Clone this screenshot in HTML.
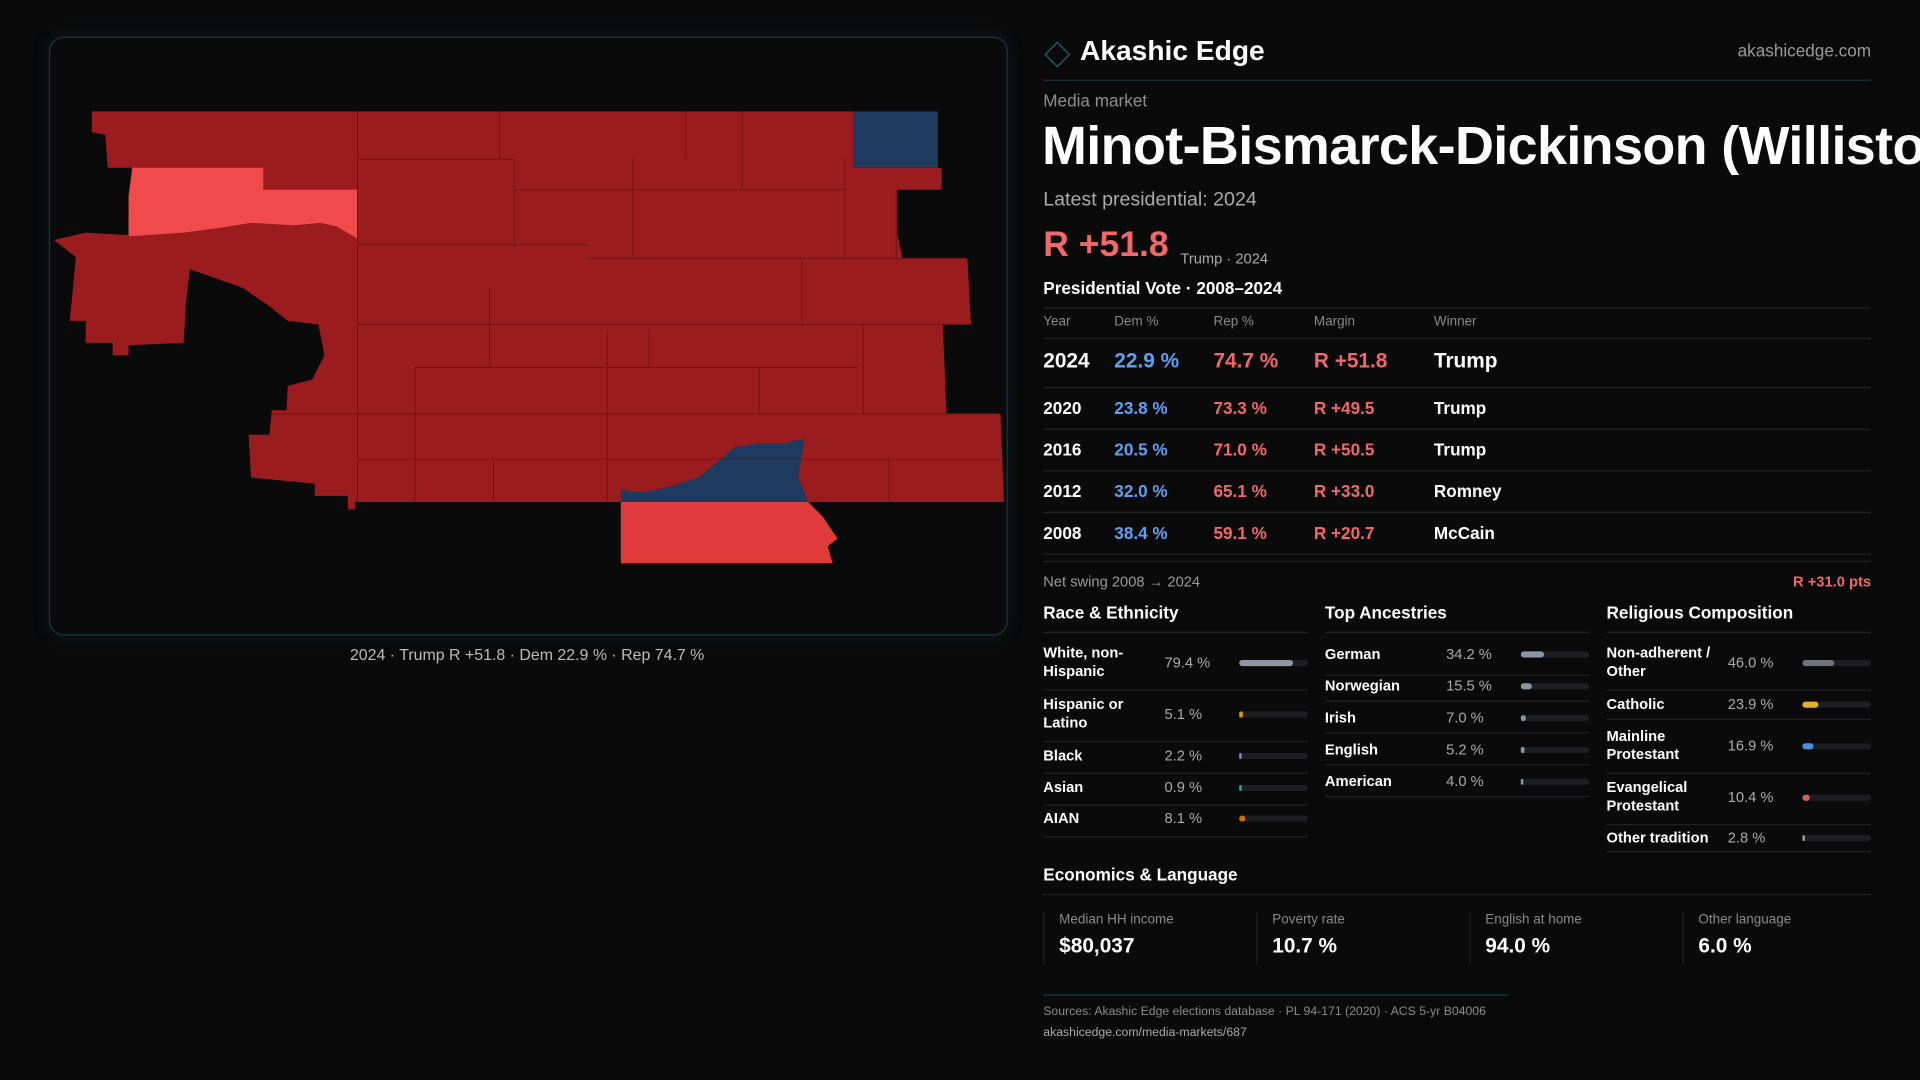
<!DOCTYPE html>
<html><head><meta charset="utf-8"><style>
html,body{margin:0;padding:0;background:#0a0a0b;width:1920px;height:1080px;overflow:hidden}
#wrap{position:absolute;left:0;top:0;width:1568px;height:882px;transform:scale(1.22449);transform-origin:0 0;font-family:"Liberation Sans",sans-serif;color:#fff}
.a{position:absolute;white-space:nowrap}
.hl{position:absolute;height:1px;background:#222326}
.g{color:#8d8d8d}
.red{color:#f26868}.blue{color:#5fa0f2}
.bt{position:absolute;height:5px;border-radius:3px;background:#1d1e22}
.bf{position:absolute;left:0;top:0;height:5px;border-radius:3px}
</style></head><body>
<div id="wrap">
<div class="a" style="left:40px;top:30px;width:781px;height:487px;border:1px solid #14393d;border-radius:12px;box-shadow:0 0 12px rgba(20,80,90,0.25)"></div>
<svg class="a" style="left:0;top:0" width="840" height="520">
<polygon fill="#9a1c1e" points="75,91 697,91 697,137 769,137 769,155 733,155 733,192 737,211 790,211 793,265 770,265 773,338 817,338 820,410 290,410 290,416 284,416 284,405 257,405 257,395 205,390 203,355 220,355 222,335 234,335 235,315 255,310 265,290 260,265 235,262 220,250 198,235 170,225 155,220 152,245 150,280 105,282 105,290 92,290 92,280 70,280 70,262 57,262 62,210 44,196 70,190 105,192 105,175 108,137 88,137 86,110 75,108"/>
<polygon fill="#f04a4a" points="108,137 215,137 215,155 233,155 233,155 292,155 292,195 275,185 262,182 240,184 205,182 180,186 150,190 105,193 105,160"/>
<polygon fill="#1e3a5f" points="697,91 766,91 766,137 697,137"/>
<polygon fill="#1e3a5f" points="507,400 525,402 545,398 570,390 585,378 600,365 620,362 640,362 657,358 652,390 660,410 507,410"/>
<polygon fill="#df3b3b" points="507,410 660,410 672,422 684,440 676,446 680,460 507,460"/>
<g stroke="#6e1416" stroke-width="0.8" fill="none">
<path d="M292,91V410M408,91V130M420,130V200M517,130V210M560,91V130M606,91V155M690,130V210M732,155V211M655,211V265M705,265V338M496,270V410M400,235V300M339,300V410M292,130H420M420,155H690M292,200H480M480,211H790M292,265H770M339,300H700M222,338H817M292,375H817M403,375V410M726,375V410M620,338V300M530,270V300"/>
</g>
</svg>
<div class="a" style="left:40px;width:781px;top:527px;text-align:center;font-size:13px;color:#bbb">2024 · Trump R +51.8 · Dem 22.9 % · Rep 74.7 %</div>

<div class="a" style="left:856px;top:37px;width:13px;height:13px;border:1.5px solid #1a6a72;transform:rotate(45deg)"></div>
<div class="a" style="left:882px;top:28px;font-size:23px;font-weight:bold">Akashic Edge</div>
<div class="a g" style="right:40px;top:33px;font-size:14px;color:#9a9a9a">akashicedge.com</div>
<div class="hl" style="left:852px;top:65px;width:676px;background:#173a3e"></div>
<div class="a g" style="left:852px;top:74px;font-size:14px">Media market</div>
<div class="a" style="left:851px;top:95px;font-size:44px;font-weight:bold;letter-spacing:-0.5px">Minot-Bismarck-Dickinson (Williston)</div>
<div class="a" style="left:852px;top:155px;font-size:16px;color:#aaa">Latest presidential: 2024</div>
<div class="a red" style="left:852px;top:184px;font-size:29px;font-weight:bold">R +51.8</div>
<div class="a" style="left:964px;top:204px;font-size:12px;color:#aaa">Trump · 2024</div>
<div class="a" style="left:852px;top:227px;font-size:14px;font-weight:bold">Presidential Vote · 2008–2024</div>
<div class="hl" style="left:852px;top:251px;width:676px"></div>
<div id="vt"></div>
<div class="a g" style="left:852px;top:468px;font-size:12px;color:#999">Net swing 2008 → 2024</div>
<div class="a red" style="right:40px;top:468px;font-size:12px;font-weight:bold">R +31.0 pts</div>
<div id="demo"></div>
<div class="a" style="left:852px;top:706px;font-size:14px;font-weight:bold">Economics &amp; Language</div>
<div class="hl" style="left:852px;top:730px;width:676px"></div>
<div id="econ"></div>
<div class="hl" style="left:852px;top:812px;width:380px;background:#173a3e"></div>
<div class="a" style="left:852px;top:821px;font-size:10px;color:#8a8a8a">Sources: Akashic Edge elections database · PL 94-171 (2020) · ACS 5-yr B04006</div>
<div class="a" style="left:852px;top:838px;font-size:10px;color:#aaa">akashicedge.com/media-markets/687</div>
</div>
<script>
const years=["2024","2020","2016","2012","2008"];
const demPct=[22.9,23.8,20.5,32.0,38.4];
const repPct=[74.7,73.3,71.0,65.1,59.1];
const margins=[51.8,49.5,50.5,33.0,20.7];
const winners=["Trump","Trump","Trump","Romney","McCain"];
const raceLabels=["White, non-<br>Hispanic","Hispanic or<br>Latino","Black","Asian","AIAN"];
const raceValues=[79.4,5.1,2.2,0.9,8.1];
const raceColors=["#8d96a6","#d99a1a","#8a7fd8","#3aa6a0","#d66d10"];
const ancLabels=["German","Norwegian","Irish","English","American"];
const ancValues=[34.2,15.5,7.0,5.2,4.0];
const relLabels=["Non-adherent /<br>Other","Catholic","Mainline<br>Protestant","Evangelical<br>Protestant","Other tradition"];
const relValues=[46.0,23.9,16.9,10.4,2.8];
const relColors=["#6b7280","#e3b02a","#4a8fe0","#e05a5a","#a0a0a0"];
const econLabels=["Median HH income","Poverty rate","English at home","Other language"];
const econValues=["$80,037","10.7 %","94.0 %","6.0 %"];
const W=document.getElementById('wrap');
function div(css,html,name,inter){const d=document.createElement('div');d.className='a';d.style.cssText=css;if(html!=null)d.innerHTML=html;


W.appendChild(d);return d;}
function line(x,y,w,c){const d=document.createElement('div');d.className='hl';d.style.cssText=`left:${x}px;top:${y}px;width:${w}px;`+(c?`background:${c}`:'');W.appendChild(d);}
const cols=[852,910,991,1073,1171];
["Year","Dem %","Rep %","Margin","Winner"].forEach((h,i)=>{div(`left:${cols[i]}px;top:257px;font-size:11px;color:#888`,h,'table-header-'+h.toLowerCase().replace(/[^a-z]/g,''),false);});
line(852,276,676);
const rowY=[295,333,367,401,435];const lineY=[316,350,384,418,452];
years.forEach((y,i)=>{const fs=i==0?17:14;const t=rowY[i]-fs*0.6;
div(`left:${cols[0]}px;top:${t}px;font-size:${fs}px;font-weight:bold`,y,'row-year-'+y,false);
div(`left:${cols[1]}px;top:${t}px;font-size:${fs}px;color:#5fa0f2;font-weight:bold`,demPct[i].toFixed(1)+' %','dem-pct-'+y,false);
div(`left:${cols[2]}px;top:${t}px;font-size:${fs}px;color:#f26868;font-weight:bold`,repPct[i].toFixed(1)+' %','rep-pct-'+y,false);
div(`left:${cols[3]}px;top:${t}px;font-size:${fs}px;color:#f26868;font-weight:bold`,'R +'+margins[i].toFixed(1),'margin-'+y,false);
div(`left:${cols[4]}px;top:${t}px;font-size:${fs}px;font-weight:bold`,winners[i],'winner-'+y,false);
line(852,lineY[i],676);});
line(852,458,676);
function block(x,title,labels,values,colors,ys,ls,key){
 div(`left:${x}px;top:492px;font-size:14px;font-weight:bold`,title,key+'-title',false);
 line(x,516,216);
 labels.forEach((l,i)=>{const two=l.includes('<br>');
  div(`left:${x}px;top:${ys[i]-(two?15:7)}px;font-size:12px;font-weight:bold;line-height:15px`,l,key+'-label',false);
  div(`left:${x+99}px;top:${ys[i]-7}px;font-size:12px;color:#aaa`,values[i].toFixed(1)+' %',key+'-value',false);
  const tr=div(`left:${x+160}px;top:${ys[i]-2}px;width:56px;height:5px;border-radius:3px;background:#1d1e22`,null,key+'-bar-track',false);
  const f=document.createElement('div');f.className='bf';f.style.width=Math.max(1.5,values[i]/100*56)+'px';f.style.background=colors[i%colors.length];
  
  
  tr.appendChild(f);
  line(x,ls[i],216);});
}
block(852,"Race &amp; Ethnicity",raceLabels,raceValues,raceColors,[541,583,617,643,668],[563,605,631,657,683],'race');
block(1082,"Top Ancestries",ancLabels,ancValues,["#8d96a6"],[534,560,586,612,638],[551,572,598,624,650],'ancestry');
block(1312,"Religious Composition",relLabels,relValues,relColors,[541,575,609,651,684],[563,587,631,673,695],'religion');
econLabels.forEach((l,i)=>{const x=852+i*174;
 div(`left:${x}px;top:745px;width:0;height:43px;border-left:1px solid #1f2023`,null,'econ-card-border',false);
 div(`left:${x+13}px;top:745px;font-size:11px;color:#888`,l,'econ-label',false);
 div(`left:${x+13}px;top:763px;font-size:17px;font-weight:bold`,econValues[i],'econ-value',false);});
</script>
</body></html>
